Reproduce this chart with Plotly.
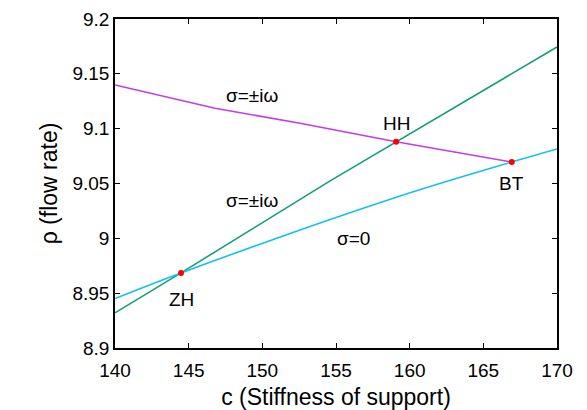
import plotly.graph_objects as go

# Purple branch (sigma = ±iω, upper)
purple_c = [140.0, 146.79, 152.56, 159.08, 166.93]
purple_rho = [9.1398, 9.1186, 9.1049, 9.0881, 9.0696]

# Green branch (sigma = ±iω)
green_c = [140.0, 144.48, 154.6, 159.08, 170.0]
green_rho = [8.932, 8.9685, 9.0524, 9.0881, 9.1745]

# Blue branch (sigma = 0)
blue_c = [140.0, 144.48, 159.35, 166.93, 170.0]
blue_rho = [8.9451, 8.9685, 9.0386, 9.0696, 9.0815]

# Special points
pt_names = ["ZH", "HH", "BT"]
pt_c = [144.48, 159.08, 166.93]
pt_rho = [8.9685, 9.0881, 9.0696]

# Region labels
region_text = ["σ=±iω", "σ=±iω", "σ=0"]
region_c = [149.27, 149.27, 156.16]
region_rho = [9.130, 9.0344, 8.9995]

x_ticks = [140, 145, 150, 155, 160, 165, 170]
y_ticks = [8.9, 8.95, 9.0, 9.05, 9.1, 9.15, 9.2]
y_tick_text = ["8.9", "8.95", "9", "9.05", "9.1", "9.15", "9.2"]

FONT = "Liberation Sans, Arial, sans-serif"
FS = 19

fig = go.Figure()
fig.add_trace(go.Scatter(x=purple_c, y=purple_rho, mode="lines",
                         line=dict(color="#C23CE8", width=1.6), showlegend=False))
fig.add_trace(go.Scatter(x=green_c, y=green_rho, mode="lines",
                         line=dict(color="#12A078", width=1.6), showlegend=False))
fig.add_trace(go.Scatter(x=blue_c, y=blue_rho, mode="lines", line_shape="spline",
                         line=dict(color="#14C0EE", width=1.6), showlegend=False))
fig.add_trace(go.Scatter(x=pt_c, y=pt_rho, mode="markers",
                         marker=dict(color="#FF0000", size=6), showlegend=False))

# point labels
offsets = {"ZH": (0, -0.0247), "HH": (0, 0.0168), "BT": (0, -0.0194)}
for n, cx, cy in zip(pt_names, pt_c, pt_rho):
    dx, dy = offsets[n]
    fig.add_annotation(x=cx + dx, y=cy + dy, text=n, showarrow=False,
                       font=dict(family=FONT, size=FS, color="black"))
for t, cx, cy in zip(region_text, region_c, region_rho):
    fig.add_annotation(x=cx, y=cy, text=t, showarrow=False,
                       font=dict(family=FONT, size=FS, color="black"))

fig.update_layout(
    width=587, height=410,
    margin=dict(l=115, r=30, t=19, b=62, autoexpand=False),
    paper_bgcolor="white", plot_bgcolor="white",
    font=dict(family=FONT, size=FS, color="black"),
    xaxis=dict(range=[140, 170], tickvals=x_ticks, ticks="inside", ticklen=5,
               tickwidth=1, tickcolor="black", showline=True, linecolor="black",
               linewidth=1.5, mirror="ticks", showgrid=False, zeroline=False,
               ticklabelstandoff=4, automargin=False,
               title=dict(text="c (Stiffness of support)", standoff=14),
               tickfont=dict(size=FS)),
    yaxis=dict(range=[8.9, 9.2], tickvals=y_ticks, ticktext=y_tick_text,
               ticks="inside", ticklen=5, tickwidth=1, tickcolor="black",
               showline=True, linecolor="black", linewidth=1.5, mirror="ticks",
               showgrid=False, zeroline=False, automargin=False,
               title=dict(text="ρ (flow rate)", standoff=8),
               tickfont=dict(size=FS)),
)

fig.write_html("out.html")
